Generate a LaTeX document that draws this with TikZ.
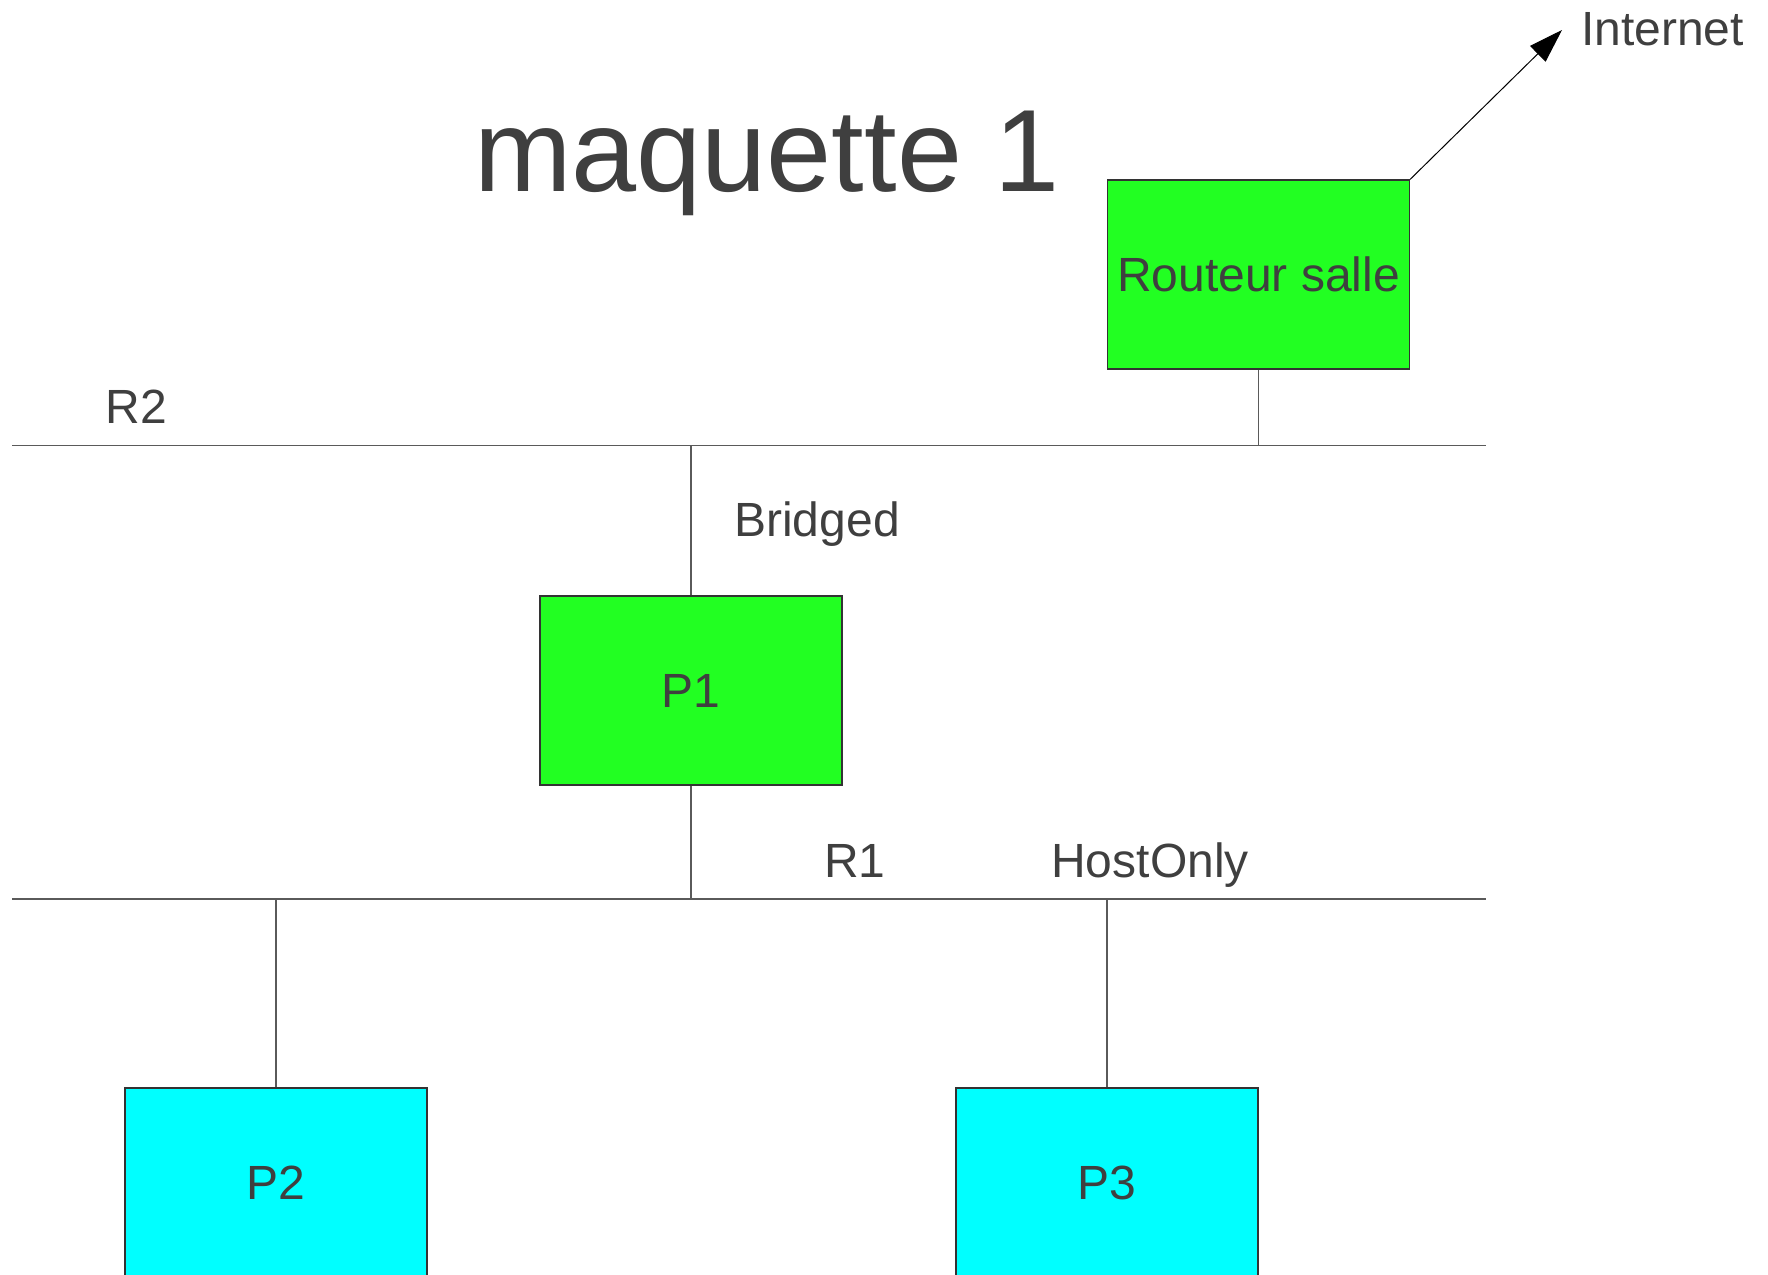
\documentclass[tikz,border=0pt]{standalone}
\usepackage{fontspec}
\setmainfont{Liberation Sans}
\usetikzlibrary{arrows.meta}
\definecolor{txtgray}{HTML}{3F3F3F}
\definecolor{linegray}{HTML}{5A5A5A}
\definecolor{boxgreen}{HTML}{22FF22}
\definecolor{boxcyan}{HTML}{00FFFF}
\begin{document}
\begin{tikzpicture}[x=1bp,y=-1bp,
  hostbox/.style={draw=black!80, line width=1.2bp, minimum width=302bp, minimum height=189bp, inner sep=0pt, text=txtgray, font=\fontsize{48bp}{57bp}\selectfont},
  greenbox/.style={hostbox, fill=boxgreen},
  cyanbox/.style={hostbox, fill=boxcyan},
  lbl/.style={text=txtgray, inner sep=0pt, anchor=base, font=\fontsize{48bp}{57bp}\selectfont},
  net/.style={draw=linegray, line width=1.3bp},
  link/.style={draw=linegray, line width=1.2bp}]
\useasboundingbox (0,0) rectangle (1768,1274);
\begin{scope}
\clip (0,0) rectangle (1768,1274);
% boxes
\node[greenbox] (rout) at (1258.5,274.5) {Routeur salle};
\node[greenbox] (p1) at (691,690.5) {P1};
\node[cyanbox] (p2) at (276,1182.5) {P2};
\node[cyanbox] (p3) at (1107,1182.5) {P3};
% network lines
\coordinate (r2l) at (12,445.5);
\coordinate (r2r) at (1486,445.5);
\coordinate (r1l) at (12,899);
\coordinate (r1r) at (1486,899);
\draw[net] (r2l) -- (r2r);
\draw[net] (r1l) -- (r1r);
% links
\draw[link] (rout.south) -- (rout.south |- r2l);
\draw[link] (p1.north) -- (p1.north |- r2l);
\draw[link] (p1.south) -- (p1.south |- r1l);
\draw[link] (p2.north) -- (p2.north |- r1l);
\draw[link] (p3.north) -- (p3.north |- r1l);
% internet arrow
\coordinate (inet) at (1562,30);
\draw[black, line width=1bp, -{Triangle[length=34bp,width=22bp]}] (rout.north east) -- (inet);
% labels
\node[lbl, font=\fontsize{117bp}{140bp}\selectfont] (title) at (767,191) {maquette 1};
\node[lbl] (inettxt) at (1662.5,45) {Internet};
\node[lbl] (r2txt) at (136.5,423) {R2};
\node[lbl] (brtxt) at (817,536) {Bridged};
\node[lbl] (r1txt) at (855,877) {R1};
\node[lbl] (hotxt) at (1150,877) {HostOnly};
\end{scope}
\end{tikzpicture}
\end{document}
